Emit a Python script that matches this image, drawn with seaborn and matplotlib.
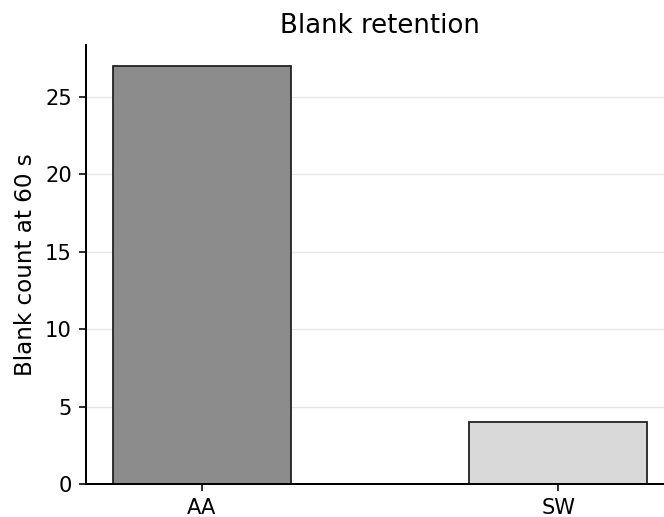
import pandas as pd
import seaborn as sns
import matplotlib.pyplot as plt

groups = ["AA", "SW"]
blank_counts = [27, 4]
bar_colors = ["#8c8c8c", "#d9d9d9"]

df = pd.DataFrame({"group": groups, "count": blank_counts})

sns.set_style("ticks")
plt.rcParams["font.family"] = ["DejaVu Sans"]
plt.rcParams["text.color"] = "black"
plt.rcParams["axes.labelcolor"] = "black"

dpi = 144
fig = plt.figure(figsize=(664 / dpi, 517 / dpi), dpi=dpi)
ax = fig.add_axes([86 / 664, 33 / 517, 588 / 664, 439 / 517])

sns.barplot(data=df, x="group", y="count", hue="group", palette=bar_colors,
            width=0.5, edgecolor="#222222", linewidth=0.9, legend=False, ax=ax)

ax.set_xlim(-0.325, 1.325)
ax.set_ylim(0, 27 * 1.05)
ax.set_yticks([0, 5, 10, 15, 20, 25])
ax.yaxis.grid(True, color="#e6e6e6", linewidth=0.7)
ax.set_axisbelow(True)
sns.despine(ax=ax)
for s in ["left", "bottom"]:
    ax.spines[s].set_linewidth(1.0)
    ax.spines[s].set_color("black")
ax.tick_params(axis="both", labelsize=10.5, length=3.5, width=0.8, colors="black")

ax.set_xlabel("")
ax.set_ylabel("Blank count at 60 s", fontsize=11.5, color="black")
ax.set_title("Blank retention", fontsize=13, color="black")

fig.savefig("out.png", dpi=dpi)
